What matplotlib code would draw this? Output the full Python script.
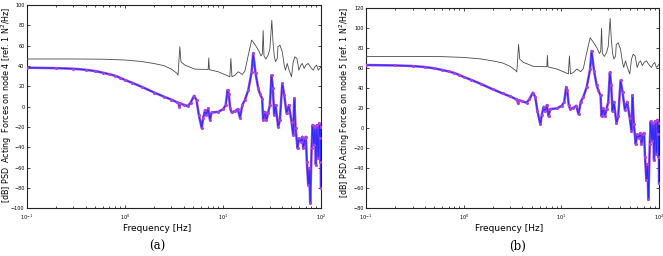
import matplotlib
matplotlib.use("Agg")
import matplotlib.pyplot as plt
from matplotlib.ticker import LogLocator, FixedLocator

# ---- data (frequency in Hz, level in dB) ----
freq_grey = [0.1, 0.3, 0.6, 1.0, 1.5, 2.0, 2.5, 3.0, 3.4, 3.5, 3.65, 3.75, 4.1, 5.2,
             7.1, 7.2, 7.3, 9.0, 11.4, 11.8, 12.1, 12.4, 13.3, 14.4, 15.8, 16.8, 18.2,
             19.7, 20.9, 22.0, 23.3, 24.5, 25.3, 25.8, 26.3, 27.5, 29.0, 30.2, 31.6,
             32.6, 33.5, 34.5, 35.9, 36.5, 38.2, 40.4, 42.3, 43.5, 45.4, 47.4, 50.2,
             52.2, 54.3, 57.0, 59.7, 62.5, 64.6, 67.6, 70.3, 74.3, 77.3, 80.4, 83.6,
             86.9, 90.4, 94.0, 97.7, 100.0]
grey_node4 = [47.0, 47.0, 46.8, 46.0, 44.5, 42.5, 40.5, 37.0, 33.0, 31.1, 59.0, 44.3, 41.0, 37.0,
              36.7, 48.0, 36.5, 34.4, 30.2, 29.5, 47.5, 29.5, 31.0, 34.4, 31.8, 35.0, 50.8,
              65.6, 62.3, 59.0, 55.0, 50.0, 52.0, 75.0, 50.0, 47.0, 50.8, 57.0, 85.0,
              62.0, 50.0, 44.3, 47.5, 59.0, 60.7, 54.0, 41.0, 36.0, 42.6, 36.0, 29.5,
              44.0, 49.2, 47.5, 36.0, 41.0, 42.6, 37.7, 41.0, 42.6, 40.0, 37.7, 36.0,
              39.3, 41.0, 36.0, 37.7, 39.3]
grey_node5 = [72.0, 72.0, 71.8, 71.0, 69.5, 67.5, 65.5, 62.0, 58.0, 56.5, 84.0, 69.3, 66.0, 62.0,
              61.7, 73.0, 61.5, 59.4, 55.2, 54.5, 72.5, 54.5, 56.0, 59.4, 56.8, 60.0, 75.8,
              90.6, 87.3, 84.0, 80.0, 75.0, 77.0, 100.0, 75.0, 72.0, 75.8, 82.0, 110.0,
              87.0, 75.0, 69.3, 72.5, 84.0, 85.7, 79.0, 66.0, 61.0, 67.6, 61.0, 54.5,
              69.0, 74.2, 72.5, 61.0, 66.0, 67.6, 62.7, 66.0, 67.6, 65.0, 62.7, 61.0,
              64.3, 66.0, 61.0, 62.7, 64.3]

freq_force = [0.1, 0.2, 0.3, 0.4, 0.5, 0.6, 0.7, 0.8, 0.9, 1.0, 1.2, 1.5, 2.0, 2.5, 3.0,
              3.4, 3.55, 3.6, 3.65, 4.0, 4.4, 4.7, 5.1, 5.4, 5.7, 6.1, 6.3, 6.6, 6.8,
              7.1, 7.4, 7.7, 9.0, 10.1, 10.7, 11.2, 11.5, 11.9, 12.3, 13.3, 14.2, 15.0,
              15.8, 16.8, 18.2, 19.7, 20.4, 21.6, 23.0, 23.9, 25.2, 25.8, 26.9, 27.9,
              29.0, 30.2, 31.4, 32.4, 33.4, 34.5, 36.7, 38.2, 40.4, 42.3, 44.7, 47.2,
              50.2, 52.2, 53.5, 55.2, 57.8, 59.7, 62.5, 64.6, 66.1, 68.7, 70.3, 71.9,
              74.3, 76.0, 77.8, 80.4, 82.2, 84.9, 86.9, 88.9, 91.0, 94.0, 96.2, 98.4,
              99.0, 99.5, 100.0]
force_node4 = [38.4, 38.0, 37.4, 36.4, 35.1, 33.5, 32.0, 30.5, 28.5, 26.5, 23.5, 19.5, 14.0, 10.0, 7.0,
               4.5, 3.5, 0.0, 3.2, 2.0, 0.7, 4.0, 10.8, 6.6, -8.0, -21.0, -11.5, -3.3, -8.0,
               -1.6, -13.0, -5.6, -5.0, -2.3, 1.6, 16.4, 13.0, -1.6, -5.6, -4.3, -2.3, -10.8,
               1.6, 6.6, 16.4, 34.4, 52.5, 32.8, 18.0, 13.0, 8.0, -13.0, -5.0, -13.0,
               -6.0, 1.6, 31.0, 18.0, -8.0, 1.6, -19.7, -13.0, 23.0, 11.5, -6.6, 1.6,
               -14.8, -28.0, 8.2, -21.0, -41.0, -31.0, -34.4, -29.5, -41.0, -31.0, -29.5, -54.0,
               -77.0, -60.7, -95.0, -41.0, -18.0, -37.7, -19.7, -57.0, -18.0, -50.8, -16.4, -31.0,
               -54.0, -20.0, -80.0]
force_node5 = [63.4, 63.0, 62.4, 61.4, 60.1, 58.5, 57.0, 55.5, 53.5, 51.5, 48.5, 44.5, 39.0, 35.0, 32.0,
               29.5, 28.5, 25.0, 28.2, 27.0, 25.7, 29.0, 35.8, 31.6, 17.0, 4.0, 13.5, 21.7, 17.0,
               23.4, 12.0, 19.4, 20.0, 22.7, 26.6, 41.4, 38.0, 23.4, 19.4, 20.7, 22.7, 14.2,
               26.6, 31.6, 41.4, 59.4, 77.5, 57.8, 43.0, 38.0, 33.0, 12.0, 20.0, 12.0,
               19.0, 26.6, 56.0, 43.0, 17.0, 26.6, 5.3, 12.0, 48.0, 36.5, 18.4, 26.6,
               10.2, -3.0, 33.2, 4.0, -16.0, -6.0, -9.4, -4.5, -16.0, -6.0, -4.5, -29.0,
               -52.0, -35.7, -71.0, -16.0, 7.0, -12.7, 5.3, -32.0, 7.0, -25.8, 8.6, -6.0,
               -29.0, 5.0, -55.0]

panels = [
    dict(rect=[0.040, 0.186, 0.444, 0.794], grey=grey_node4, force=force_node4,
         ylim=(-100, 100), ylabel='[dB] PSD  Acting  Forces on node 4 [ref. 1 N$^2$/Hz]',
         xlab_pos=(0.442, -0.097), ylab_pos=(-0.066, 0.51), caption='(a)', cap_x=0.237),
    dict(rect=[0.552, 0.186, 0.442, 0.781], grey=grey_node5, force=force_node5,
         ylim=(-80, 120), ylabel='[dB] PSD Acting Forces on node 5 [ref. 1 N$^2$/Hz]',
         xlab_pos=(0.49, -0.099), ylab_pos=(-0.072, 0.53), caption='(b)', cap_x=0.781),
]

fig = plt.figure(figsize=(6.63, 2.56), dpi=100)

for p in panels:
    ax = fig.add_axes(p['rect'])
    ax.plot(freq_grey, p['grey'], color='#4a4a4a', lw=0.6, zorder=3)
    # thick purple underlay + blue line with magenta dots
    ax.plot(freq_force, p['force'], color='#7a28e0', lw=1.8, alpha=0.85, zorder=4)
    ax.plot(freq_force, p['force'], color='#2a2aff', lw=0.7, marker='.', ms=2.4,
            mfc='#b040e0', mec='#b040e0', zorder=5)

    ax.set_xscale('log')
    ax.set_xlim(0.1, 100)
    ax.set_ylim(*p['ylim'])
    ax.yaxis.set_major_locator(FixedLocator(range(p['ylim'][0], p['ylim'][1] + 1, 20)))
    ax.xaxis.set_major_locator(LogLocator(base=10))
    ax.xaxis.set_minor_locator(LogLocator(base=10, subs=range(2, 10)))

    ax.tick_params(which='both', direction='in', top=True, right=True,
                   labelsize=3.5, width=0.5)
    ax.tick_params(axis='y', pad=1.5)
    ax.tick_params(axis='x', pad=3)
    ax.tick_params(which='major', length=2.5)
    ax.tick_params(which='minor', length=1.5)
    for s in ax.spines.values():
        s.set_linewidth(0.8)
        s.set_color('#222222')

    ax.set_xlabel('Frequency [Hz]', fontsize=6.5)
    ax.xaxis.label.set_va('center')
    ax.xaxis.set_label_coords(*p['xlab_pos'])
    ax.set_ylabel(p['ylabel'], fontsize=5.8)
    ax.yaxis.label.set_va('center')
    ax.yaxis.set_label_coords(*p['ylab_pos'])

    fig.text(p['cap_x'], 0.038, p['caption'], family='DejaVu Serif', fontsize=8.5,
             ha='center', va='center')

fig.savefig('out.png', dpi=100)
